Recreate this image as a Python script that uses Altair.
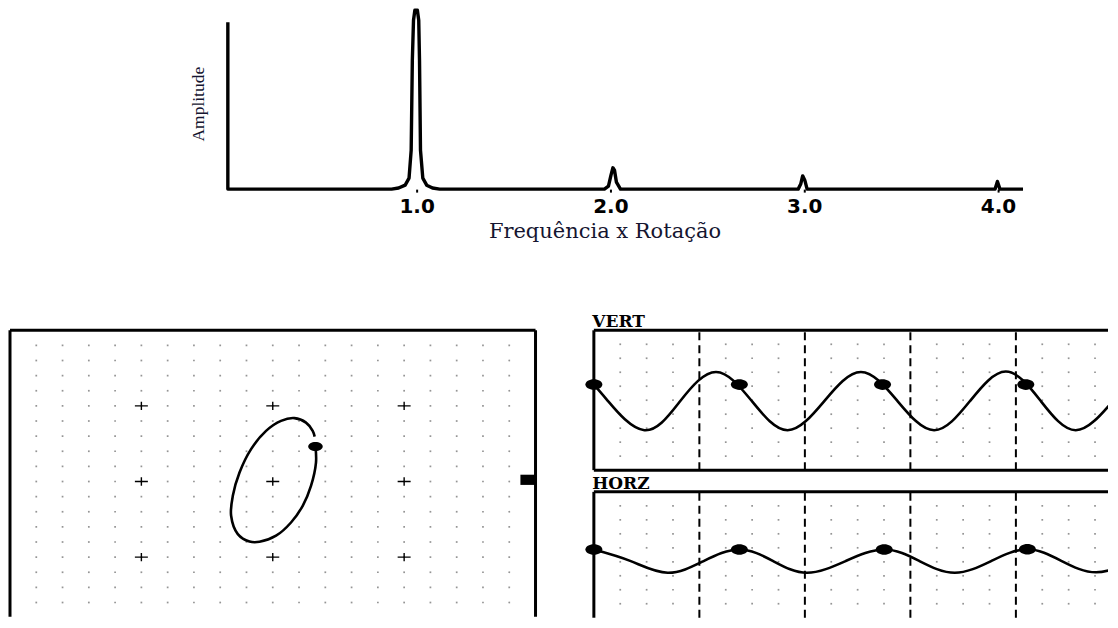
import altair as alt
import pandas as pd

# ---------------- Spectrum (frequency as multiple of rotation, amplitude % of 1x) ----------------
SPEC_FREQ = [0.026, 0.026, 0.871, 0.907, 0.941, 0.961, 0.972, 0.978, 0.984, 0.991, 1.004, 1.011, 1.015, 1.020, 1.032, 1.052, 1.082, 1.119,
             1.969, 1.990, 2.003, 2.013, 2.021, 2.031, 2.052,
             2.969, 2.982, 2.992, 3.003, 3.015,
             3.985, 3.997, 4.010, 4.129]
SPEC_AMP = [93.2, 0, 0, 0.6, 2.2, 6.1, 21.8, 72, 94.3, 99.9, 99.9, 94.3, 72, 21.8, 6.1, 2.2, 0.6, 0,
            0, 1.7, 7.8, 11.9, 10.6, 3.9, 0,
            0, 2.8, 7.4, 5.0, 0,
            0, 4.3, 0, 0]
SPEC_TICKS = [1.0, 2.0, 3.0, 4.0]

# ---------------- Orbit (divisions) ----------------
ORBIT_X = [0.325, 0.329, 0.291, 0.228, 0.139, 0.025, -0.101, -0.177, -0.266, -0.317, -0.304, -0.253,
           -0.165, -0.051, 0.063, 0.165, 0.253, 0.304, 0.319]
ORBIT_Y = [0.462, 0.251, -0.057, -0.321, -0.542, -0.717, -0.797, -0.793, -0.695, -0.453, -0.189, 0.119,
           0.428, 0.670, 0.802, 0.838, 0.779, 0.670, 0.594]
ORBIT_KEY_X = [0.325]
ORBIT_KEY_Y = [0.462]
ORBIT_GRID_X = [-1.8, -1.6, -1.4, -1.2, -1.0, -0.8, -0.6, -0.4, -0.2, 0.0, 0.2, 0.4, 0.6, 0.8, 1.0, 1.2, 1.4, 1.6, 1.8]
ORBIT_GRID_Y = [-1.6, -1.4, -1.2, -1.0, -0.8, -0.6, -0.4, -0.2, 0.0, 0.2, 0.4, 0.6, 0.8, 1.0, 1.2, 1.4, 1.6, 1.8]
ORBIT_MAJOR = [-1, 0, 1]

# ---------------- Time waveforms (time in dashed-line units) ----------------
# read at start, troughs, mid-level crossings and peaks
VERT_T = [0.0, 0.134, 0.479, 0.819, 1.158, 1.497, 1.836, 2.184, 2.531, 2.878, 3.225, 3.565, 3.904, 4.236, 4.567, 4.920]
VERT_Y = [0.223, -0.012, -0.429, -0.012, 0.404, -0.012, -0.429, -0.012, 0.404, -0.012, -0.429, -0.012, 0.410, -0.012, -0.429, -0.012]
HORZ_T = [0.0, 0.350, 0.700, 1.040, 1.379, 1.700, 2.020, 2.386, 2.752, 3.086, 3.420, 3.765, 4.109, 4.435, 4.760, 5.100]
HORZ_Y = [0.176, 0.010, -0.157, 0.010, 0.176, 0.010, -0.157, 0.010, 0.176, 0.010, -0.157, 0.010, 0.179, 0.010, -0.150, 0.010]
VERT_KEY_T = [0.0, 1.379, 2.736, 4.094]
VERT_KEY_Y = [0.223, 0.223, 0.223, 0.223]
HORZ_KEY_T = [0.0, 1.379, 2.752, 4.109]
HORZ_KEY_Y = [0.176, 0.176, 0.176, 0.179]
WAVE_GRID_T = [0.25, 0.5, 0.75, 1.25, 1.5, 1.75, 2.25, 2.5, 2.75, 3.25, 3.5, 3.75, 4.25, 4.5, 4.75]
VERT_GRID_Y = [-0.8, -0.6, -0.4, -0.2, 0.0, 0.2, 0.4, 0.6, 0.8]
HORZ_GRID_Y = [-0.6, -0.4, -0.2, 0.0, 0.2, 0.4, 0.6, 0.8]
DASH_T = [1, 2, 3, 4]

INK = "black"
TXT = "#151530"
DOT_SHAPE = "M-1,0A1,0.62,0,1,1,1,0A1,0.62,0,1,1,-1,0Z"
PLUS_SHAPE = "M-1,0L1,0M0,-0.65L0,0.65"

# ================= Spectrum chart =================
spec_df = pd.DataFrame({"freq": SPEC_FREQ, "amp": SPEC_AMP, "i": list(range(len(SPEC_FREQ)))})
spectrum = alt.Chart(spec_df).mark_line(
    color=INK, strokeWidth=3.4, strokeJoin="round"
).encode(
    x=alt.X("freq:Q", scale=alt.Scale(domain=[0, 4.15], nice=False, zero=False),
            axis=alt.Axis(values=SPEC_TICKS, format=".1f", title="Frequência x Rotação",
                          domain=False, grid=False, tickSize=3, tickWidth=2, tickColor=INK,
                          labelPadding=4, labelFont="DejaVu Sans", labelFontWeight="bold",
                          labelFontSize=20, labelColor=INK, labelFlush=False,
                          titleFont="DejaVu Serif", titleFontWeight="normal", titleFontSize=21,
                          titleColor=TXT, titlePadding=4, titleX=382)),
    y=alt.Y("amp:Q", scale=alt.Scale(domain=[0, 101], nice=False, zero=True),
            axis=alt.Axis(title="Amplitude", labels=False, ticks=False, domain=False, grid=False,
                          minExtent=0, titleFont="Liberation Serif", titleFontWeight="normal",
                          titleFontSize=17.5, titleColor=TXT, titlePadding=15, titleY=95.5)),
    order="i:Q",
).properties(width=805, height=181)

spacer = alt.Chart(pd.DataFrame({"v": [0]})).mark_point(opacity=0).properties(width=181, height=10)
top_row = alt.hconcat(spacer, spectrum, spacing=0)

# ================= Orbit chart =================
OY_MIN = -1.788
oxs = alt.Scale(domain=[-2.0076, 2.0228], nice=False, zero=False)
oys = alt.Scale(domain=[OY_MIN, 2.215], nice=False, zero=False)

og_df = pd.DataFrame([(gx, gy) for gx in ORBIT_GRID_X for gy in ORBIT_GRID_Y], columns=["gx", "gy"])
grid_o = alt.Chart(og_df).mark_square(size=3, color="#8a8a8a", opacity=0.9).encode(
    x=alt.X("gx:Q", scale=oxs, axis=None), y=alt.Y("gy:Q", scale=oys, axis=None))

plus_df = pd.DataFrame([(px, py) for px in ORBIT_MAJOR for py in ORBIT_MAJOR], columns=["px", "py"])
plus_o = alt.Chart(plus_df).mark_point(shape=PLUS_SHAPE, size=169, filled=False, stroke=INK,
                                       strokeWidth=1.4, opacity=1).encode(
    x=alt.X("px:Q", scale=oxs, axis=None), y=alt.Y("py:Q", scale=oys, axis=None))

obox_df = pd.DataFrame({"x": [-2, -2, 2], "x2": [-2, 2, 2], "y": [OY_MIN, 2, OY_MIN], "y2": [2, 2, 2]})
box_o = alt.Chart(obox_df).mark_rule(color=INK, strokeWidth=3, strokeCap="butt").encode(
    x=alt.X("x:Q", scale=oxs, axis=None), x2="x2:Q",
    y=alt.Y("y:Q", scale=oys, axis=None), y2="y2:Q")

marker_df = pd.DataFrame({"x": [1.885], "x2": [2.0], "y": [-0.045], "y2": [0.09]})
marker_o = alt.Chart(marker_df).mark_rect(color=INK).encode(
    x=alt.X("x:Q", scale=oxs, axis=None), x2="x2:Q",
    y=alt.Y("y:Q", scale=oys, axis=None), y2="y2:Q")

ell_df = pd.DataFrame({"ox": ORBIT_X, "oy": ORBIT_Y, "i": list(range(len(ORBIT_X)))})
ellipse = alt.Chart(ell_df).mark_line(color=INK, strokeWidth=2.6, interpolate="catmull-rom").encode(
    x=alt.X("ox:Q", scale=oxs, axis=None), y=alt.Y("oy:Q", scale=oys, axis=None), order="i:Q")

okey_df = pd.DataFrame({"kx": ORBIT_KEY_X, "ky": ORBIT_KEY_Y})
okey = alt.Chart(okey_df).mark_point(shape=DOT_SHAPE, size=210, filled=True, color=INK, opacity=1).encode(
    x=alt.X("kx:Q", scale=oxs, axis=None), y=alt.Y("ky:Q", scale=oys, axis=None))

orbit = alt.layer(grid_o, plus_o, box_o, marker_o, ellipse, okey).properties(width=530, height=303)


# ================= Waveform panels =================
T_MAX = 4.873


def wave_panel(label, label_y, ts, ys, kt, ky, grid_y, ydom, height, box_bottom, has_bottom):
    xs = alt.Scale(domain=[-0.0795, T_MAX], nice=False, zero=False)
    ysc = alt.Scale(domain=ydom, nice=False, zero=False)
    gdf = pd.DataFrame([(gt, gy) for gt in WAVE_GRID_T if gt < T_MAX for gy in grid_y], columns=["gt", "gy"])
    grid = alt.Chart(gdf).mark_square(size=3, color="#8a8a8a", opacity=0.9).encode(
        x=alt.X("gt:Q", scale=xs, axis=None), y=alt.Y("gy:Q", scale=ysc, axis=None))
    ddf = pd.DataFrame({"dt": DASH_T, "y": [box_bottom] * len(DASH_T), "y2": [1] * len(DASH_T)})
    dashes = alt.Chart(ddf).mark_rule(color=INK, strokeWidth=2, strokeDash=[8, 5]).encode(
        x=alt.X("dt:Q", scale=xs, axis=None), y=alt.Y("y:Q", scale=ysc, axis=None), y2="y2:Q")
    bx = {"x": [0, 0], "x2": [0, T_MAX], "y": [box_bottom, 1], "y2": [1, 1]}
    if has_bottom:
        bx["x"].append(0); bx["x2"].append(T_MAX); bx["y"].append(-1); bx["y2"].append(-1)
    box = alt.Chart(pd.DataFrame(bx)).mark_rule(color=INK, strokeWidth=3, strokeCap="butt").encode(
        x=alt.X("x:Q", scale=xs, axis=None), x2="x2:Q",
        y=alt.Y("y:Q", scale=ysc, axis=None), y2="y2:Q")
    wdf = pd.DataFrame({"t": ts, "v": ys})
    wave = alt.Chart(wdf).mark_line(color=INK, strokeWidth=2.6, interpolate="natural", clip=True).encode(
        x=alt.X("t:Q", scale=xs, axis=None), y=alt.Y("v:Q", scale=ysc, axis=None))
    kdf = pd.DataFrame({"kt": kt, "kv": ky})
    keys = alt.Chart(kdf).mark_point(shape=DOT_SHAPE, size=289, filled=True, color=INK, opacity=1).encode(
        x=alt.X("kt:Q", scale=xs, axis=None), y=alt.Y("kv:Q", scale=ysc, axis=None))
    tdf = pd.DataFrame({"lt": [-0.015], "ly": [label_y], "txt": [label]})
    text = alt.Chart(tdf).mark_text(align="left", baseline="alphabetic", font="DejaVu Serif",
                                    fontWeight="bold", fontSize=17, color=INK).encode(
        x=alt.X("lt:Q", scale=xs, axis=None), y=alt.Y("ly:Q", scale=ysc, axis=None), text="txt:N")
    return alt.layer(grid, dashes, box, wave, keys, text).properties(width=523, height=height)


vert = wave_panel("VERT", 1.04, VERT_T, VERT_Y, VERT_KEY_T, VERT_KEY_Y, VERT_GRID_Y,
                  [-1.039, 1.233], 159, -1, True)
horz = wave_panel("HORZ", 1.036, HORZ_T, HORZ_Y, HORZ_KEY_T, HORZ_KEY_Y, HORZ_GRID_Y,
                  [-0.8, 1.229], 142, -0.8, False)

right_col = alt.vconcat(vert, horz, spacing=2)
bottom_row = alt.hconcat(orbit, right_col, spacing=46)

chart = alt.vconcat(top_row, bottom_row, spacing=72).properties(
    padding={"left": 0, "top": 0, "right": 0, "bottom": 0}, background="white"
).configure_view(stroke=None)

chart.save("out.html", embed_options={"renderer": "svg", "actions": False})
